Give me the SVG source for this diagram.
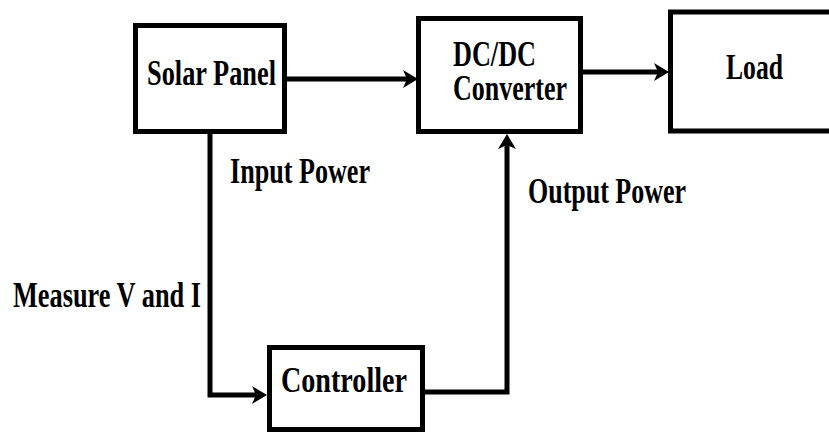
<svg xmlns="http://www.w3.org/2000/svg" width="829" height="434" viewBox="0 0 829 434">
<style>
.box{fill:#fff;stroke:#000;stroke-width:5}
.t{font-family:'Liberation Serif','DejaVu Serif',serif;font-weight:700;font-size:35px;fill:#000}
.c{fill:none;stroke:#000;stroke-width:5;stroke-linejoin:miter}
</style>
<defs>
<marker id="ah" markerUnits="userSpaceOnUse" markerWidth="16" markerHeight="20" viewBox="0 0 16 20" refX="7" refY="9" orient="auto">
<path d="M0,0 L15,9 L0,18 L4,9 z" fill="#000"/>
</marker>
</defs>
<rect width="829" height="434" fill="#fff"/>
<g id="connectors">
<path class="c" d="M287,79 H410" marker-end="url(#ah)"/>
<path class="c" d="M583,72 H661" marker-end="url(#ah)"/>
<path class="c" d="M210,134 V395 H259" marker-end="url(#ah)"/>
<path class="c" d="M425,392 H507 V142" marker-end="url(#ah)"/>
</g>
<g id="solar-panel">
<rect class="box" x="135.5" y="25.5" width="149" height="106"/>
<text class="t" x="147" y="85" textLength="129" lengthAdjust="spacingAndGlyphs">Solar Panel</text>
</g>
<g id="dcdc-converter">
<rect class="box" x="418.5" y="18.5" width="162" height="113"/>
<text class="t" x="453" y="66" textLength="83" lengthAdjust="spacingAndGlyphs">DC/DC</text>
<text class="t" x="453" y="100" textLength="114" lengthAdjust="spacingAndGlyphs">Converter</text>
</g>
<g id="load">
<rect class="box" x="670.5" y="12" width="200" height="119"/>
<text class="t" x="726" y="79" textLength="57" lengthAdjust="spacingAndGlyphs">Load</text>
</g>
<g id="controller">
<rect class="box" x="269.5" y="347.5" width="153" height="82"/>
<text class="t" x="281" y="392" textLength="126" lengthAdjust="spacingAndGlyphs">Controller</text>
</g>
<g id="labels">
<text class="t" x="230" y="183" textLength="140" lengthAdjust="spacingAndGlyphs">Input Power</text>
<text class="t" x="13" y="307" textLength="188" lengthAdjust="spacingAndGlyphs">Measure V and I</text>
<text class="t" x="528" y="203" textLength="158" lengthAdjust="spacingAndGlyphs">Output Power</text>
</g>
</svg>
